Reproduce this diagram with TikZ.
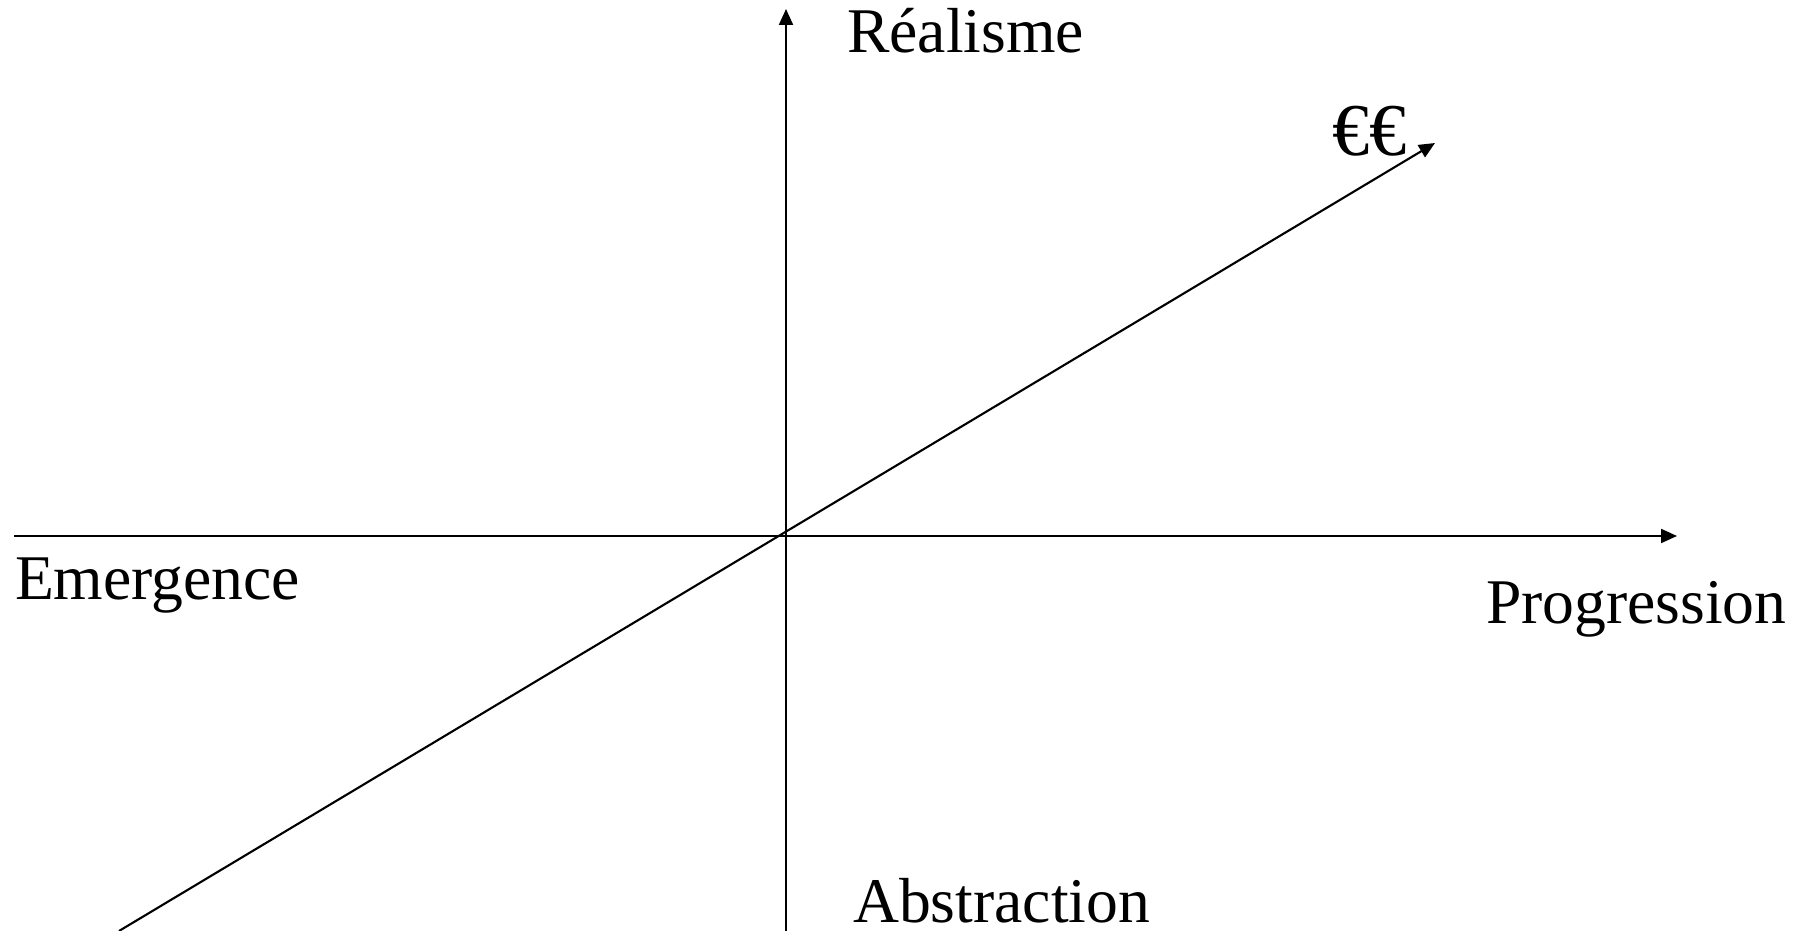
\documentclass[tikz,border=0pt]{standalone}
\usepackage{fontspec}
\setmainfont{Liberation Serif}
\usetikzlibrary{arrows.meta}

\begin{document}
\begin{tikzpicture}[x=0.01cm,y=-0.01cm,line width=0.6pt,
  >={Triangle[length=1.6mm,width=1.4mm]},
  lbl/.style={anchor=base west,inner sep=0pt,font=\fontsize{18.1}{21}\selectfont}]
  \useasboundingbox (0,0) rectangle (1812,931);
  % axes ends
  \coordinate (top) at (786,9);
  \coordinate (bot) at (786,931);
  \coordinate (left) at (14,536);
  \coordinate (right) at (1677,536);
  \coordinate (sw) at (119,931);
  \coordinate (ne) at (1435,143);
  \draw[->] (bot) -- (top);
  \draw[->] (left) -- (right);
  \draw[->] (sw) -- (ne);
  % labels
  \node[lbl] (real) at (846,53) {Réalisme};
  \node[lbl] (abst) at (852,922) {Abstraction};
  \node[lbl] (emer) at (14,600) {Emergence};
  \node[lbl] (prog) at (1485,624) {Progression};
  \node[lbl,font=\fontsize{21.2}{24}\selectfont] (euro) at (1331,156) {€€};
\end{tikzpicture}
\end{document}
